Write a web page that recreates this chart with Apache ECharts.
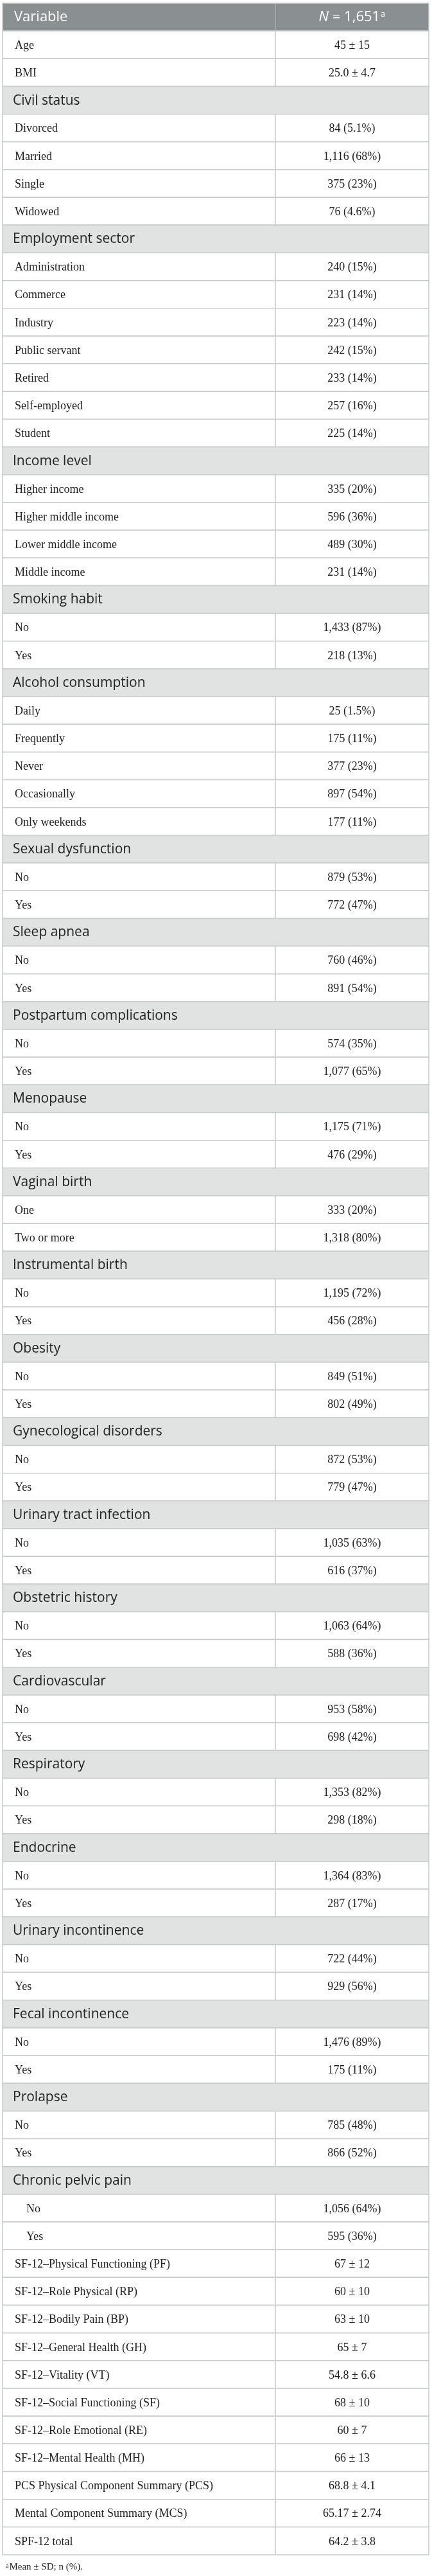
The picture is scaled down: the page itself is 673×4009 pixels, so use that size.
<!DOCTYPE html>
<html>
<head>
<meta charset="utf-8">
<script src="https://cdn.jsdelivr.net/npm/echarts@6/dist/echarts.min.js"></script>
<style>
  html, body { margin: 0; padding: 0; background: #fff; }
  #table { width: 673px; height: 4009px; }
</style>
</head>
<body>
<div id="table"></div>
<script>
// header
const headerLeft = 'Variable'
const headerRight = '{i|N} = 1,651{sup|a}'

// continuous variables on top
const topVars = ['Age', 'BMI']
const topVals = ['45 ± 15', '25.0 ± 4.7']

// categorical groups: name, levels, counts, percents
const groupNames = [
  'Civil status', 'Employment sector', 'Income level', 'Smoking habit', 'Alcohol consumption',
  'Sexual dysfunction', 'Sleep apnea', 'Postpartum complications', 'Menopause', 'Vaginal birth',
  'Instrumental birth', 'Obesity', 'Gynecological disorders', 'Urinary tract infection',
  'Obstetric history', 'Cardiovascular', 'Respiratory', 'Endocrine', 'Urinary incontinence',
  'Fecal incontinence', 'Prolapse', 'Chronic pelvic pain'
]
const groupLevels = [
  ['Divorced', 'Married', 'Single', 'Widowed'],
  ['Administration', 'Commerce', 'Industry', 'Public servant', 'Retired', 'Self-employed', 'Student'],
  ['Higher income', 'Higher middle income', 'Lower middle income', 'Middle income'],
  ['No', 'Yes'],
  ['Daily', 'Frequently', 'Never', 'Occasionally', 'Only weekends'],
  ['No', 'Yes'], ['No', 'Yes'], ['No', 'Yes'], ['No', 'Yes'],
  ['One', 'Two or more'],
  ['No', 'Yes'], ['No', 'Yes'], ['No', 'Yes'], ['No', 'Yes'], ['No', 'Yes'],
  ['No', 'Yes'], ['No', 'Yes'], ['No', 'Yes'], ['No', 'Yes'], ['No', 'Yes'],
  ['No', 'Yes'], ['No', 'Yes']
]
const groupCounts = [
  [84, 1116, 375, 76],
  [240, 231, 223, 242, 233, 257, 225],
  [335, 596, 489, 231],
  [1433, 218],
  [25, 175, 377, 897, 177],
  [879, 772], [760, 891], [574, 1077], [1175, 476],
  [333, 1318],
  [1195, 456], [849, 802], [872, 779], [1035, 616], [1063, 588],
  [953, 698], [1353, 298], [1364, 287], [722, 929], [1476, 175],
  [785, 866], [1056, 595]
]
const groupPercents = [
  [5.1, 68, 23, 4.6],
  [15, 14, 14, 15, 14, 16, 14],
  [20, 36, 30, 14],
  [87, 13],
  [1.5, 11, 23, 54, 11],
  [53, 47], [46, 54], [35, 65], [71, 29],
  [20, 80],
  [72, 28], [51, 49], [53, 47], [63, 37], [64, 36],
  [58, 42], [82, 18], [83, 17], [44, 56], [89, 11],
  [48, 52], [64, 36]
]
const indentedGroups = ['Chronic pelvic pain']

// SF-12 scores
const sfVars = [
  'SF-12–Physical Functioning (PF)', 'SF-12–Role Physical (RP)', 'SF-12–Bodily Pain (BP)',
  'SF-12–General Health (GH)', 'SF-12–Vitality (VT)', 'SF-12–Social Functioning (SF)',
  'SF-12–Role Emotional (RE)', 'SF-12–Mental Health (MH)',
  'PCS Physical Component Summary (PCS)', 'Mental Component Summary (MCS)', 'SPF-12 total'
]
const sfVals = [
  '67 ± 12', '60 ± 10', '63 ± 10', '65 ± 7', '54.8 ± 6.6', '68 ± 10',
  '60 ± 7', '66 ± 13', '68.8 ± 4.1', '65.17 ± 2.74', '64.2 ± 3.8'
]

const footnote = '{sup|a}Mean ± SD; n (%).'

// build rows: kind, label, value
const fmt = n => n.toLocaleString('en-US')
const rows = []
rows.push({ kind: 'header', label: headerLeft, value: headerRight })
topVars.forEach((v, i) => rows.push({ kind: 'item', label: v, value: topVals[i] }))
groupNames.forEach((g, gi) => {
  rows.push({ kind: 'group', label: g, value: '' })
  const indent = indentedGroups.indexOf(g) >= 0
  groupLevels[gi].forEach((lv, li) => {
    rows.push({
      kind: indent ? 'indent' : 'item',
      label: lv,
      value: fmt(groupCounts[gi][li]) + ' (' + groupPercents[gi][li] + '%)'
    })
  })
})
sfVars.forEach((v, i) => rows.push({ kind: 'item', label: v, value: sfVals[i] }))

const colSplit = 0.64
const lineColor = '#c8cccb'
const serif = '18px "Liberation Serif", "DejaVu Serif", serif'
const sans = '"Open Sans", "Noto Sans", sans-serif'

const myChart = echarts.init(document.getElementById('table'), null, { renderer: 'canvas' })

myChart.setOption({
  animation: false,
  title: {
    text: footnote,
    left: 4,
    top: 3983,
    textStyle: {
      fontFamily: '"Liberation Serif", serif',
      fontSize: 15,
      fontWeight: 'normal',
      color: '#222',
      rich: {
        sup: { fontSize: 10, verticalAlign: 'top', lineHeight: 10, padding: [0, 1, 6, 0], color: '#222' }
      }
    }
  },
  grid: { left: 4, right: 5, top: 5, bottom: 33 },
  xAxis: { type: 'value', min: 0, max: 1, show: false },
  yAxis: {
    type: 'category',
    inverse: true,
    data: rows.map((r, i) => i),
    show: false
  },
  series: [
    {
      type: 'custom',
      coordinateSystem: 'cartesian2d',
      data: rows.map((r, i) => [0, i]),
      renderItem: function (params, api) {
        const i = api.value(1)
        const r = rows[i]
        const c0 = api.coord([0, i])
        const x0 = c0[0]
        const x1 = api.coord([1, i])[0]
        const xm = api.coord([colSplit, i])[0]
        const h = api.size([0, 1])[1]
        const y = c0[1] - h / 2
        const yc = c0[1] + 1.5
        const children = []
        if (r.kind === 'header') {
          children.push({
            type: 'rect',
            shape: { x: x0, y: y, width: x1 - x0, height: h },
            style: { fill: '#8a9091', stroke: lineColor, lineWidth: 1.5 }
          })
          children.push({
            type: 'line',
            shape: { x1: xm, y1: y, x2: xm, y2: y + h },
            style: { stroke: '#a7acac', lineWidth: 1.5 }
          })
          children.push({
            type: 'text',
            style: {
              text: r.label, x: x0 + 18, y: yc - 1,
              font: '22px ' + sans, fill: '#fff',
              align: 'left', verticalAlign: 'middle'
            }
          })
          children.push({
            type: 'text',
            style: {
              text: r.value, x: (xm + x1) / 2, y: yc - 1,
              font: '22px ' + sans, fill: '#fff',
              align: 'center', verticalAlign: 'middle',
              rich: {
                i: { fontStyle: 'italic', fontSize: 22, fontFamily: sans, fill: '#fff' },
                sup: { fontSize: 13, fontFamily: sans, fill: '#fff', verticalAlign: 'top', lineHeight: 13, padding: [0, 0, 10, 1] }
              }
            }
          })
        } else if (r.kind === 'group') {
          children.push({
            type: 'rect',
            shape: { x: x0, y: y, width: x1 - x0, height: h },
            style: { fill: '#e1e3e2', stroke: lineColor, lineWidth: 1.5 }
          })
          children.push({
            type: 'text',
            style: {
              text: r.label, x: x0 + 16, y: yc - 1,
              font: '21px ' + sans, fill: '#222',
              align: 'left', verticalAlign: 'middle'
            }
          })
        } else {
          children.push({
            type: 'rect',
            shape: { x: x0, y: y, width: xm - x0, height: h },
            style: { fill: '#fff', stroke: lineColor, lineWidth: 1.5 }
          })
          children.push({
            type: 'rect',
            shape: { x: xm, y: y, width: x1 - xm, height: h },
            style: { fill: '#fff', stroke: lineColor, lineWidth: 1.5 }
          })
          children.push({
            type: 'text',
            style: {
              text: r.label, x: x0 + (r.kind === 'indent' ? 37 : 19), y: yc,
              font: serif, fill: '#222',
              align: 'left', verticalAlign: 'middle'
            }
          })
          children.push({
            type: 'text',
            style: {
              text: r.value, x: (xm + x1) / 2, y: yc,
              font: serif, fill: '#222',
              align: 'center', verticalAlign: 'middle'
            }
          })
        }
        return { type: 'group', children: children }
      }
    }
  ]
})
</script>
</body>
</html>
